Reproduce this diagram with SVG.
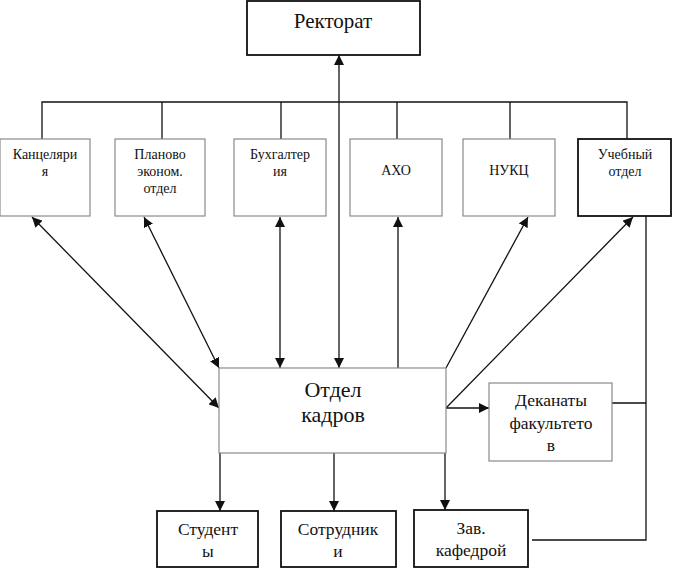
<svg xmlns="http://www.w3.org/2000/svg" width="673" height="568" viewBox="0 0 673 568">
<style>
.bg{fill:#fff}
.box{fill:#fff;stroke:#8a8a8a;stroke-width:1.2}
.dark{fill:#fff;stroke:#111;stroke-width:1.8}
.t{fill:#111;text-anchor:middle;font-family:"Liberation Serif","Times New Roman",serif}
.ln{fill:none;stroke:#111;stroke-width:1.3}
.ar{fill:none;stroke:#111;stroke-width:1.3;marker-end:url(#ah)}
.ar2{fill:none;stroke:#111;stroke-width:1.3;marker-start:url(#ahs);marker-end:url(#ah)}
</style>
<defs>
<marker id="ah" viewBox="0 0 10 10" refX="10" refY="5" markerWidth="10" markerHeight="10" markerUnits="userSpaceOnUse" orient="auto">
<path d="M0,0 L10,5 L0,10 z" fill="#111"/>
</marker>
<marker id="ahs" viewBox="0 0 10 10" refX="0" refY="5" markerWidth="10" markerHeight="10" markerUnits="userSpaceOnUse" orient="auto">
<path d="M10,0 L0,5 L10,10 z" fill="#111"/>
</marker>
</defs>
<rect class="bg" x="0" y="0" width="673" height="568"/>

<g id="connectors">
<path class="ln" d="M42,139 V102 H627 V139"/>
<path class="ln" d="M162,102 V139 M281,102 V139 M397,102 V139 M510,102 V139"/>
<line class="ar2" x1="339" y1="55" x2="339" y2="368"/>
<line class="ar2" x1="32" y1="217" x2="219" y2="408"/>
<line class="ar2" x1="144" y1="217" x2="219" y2="368"/>
<line class="ar2" x1="280" y1="217" x2="280" y2="368"/>
<line class="ar" x1="398" y1="368" x2="398" y2="217"/>
<line class="ar" x1="446" y1="368" x2="528" y2="217"/>
<line class="ar" x1="446" y1="408" x2="633" y2="217"/>
<line class="ar" x1="446" y1="408" x2="489" y2="408"/>
<path class="ln" d="M612,403 H646 M646,216 V540 H532"/>
<line class="ar" x1="220" y1="453" x2="220" y2="511"/>
<line class="ar" x1="334" y1="453" x2="334" y2="511"/>
<line class="ar" x1="445" y1="453" x2="445" y2="510"/>
</g>

<g id="rektorat">
<rect class="dark" x="247" y="1" width="173" height="54"/>
<text class="t" font-family="Liberation Serif" font-size="21" x="333" y="28">Ректорат</text>
</g>
<g id="kanc">
<rect class="box" x="0" y="139" width="90" height="77"/>
<text class="t" font-family="Liberation Serif" font-size="14" x="45" y="159">Канцеляри</text>
<text class="t" font-family="Liberation Serif" font-size="14" x="45" y="176">я</text>
</g>
<g id="planovo">
<rect class="box" x="115" y="139" width="90" height="77"/>
<text class="t" font-family="Liberation Serif" font-size="14" x="160" y="159">Планово</text>
<text class="t" font-family="Liberation Serif" font-size="14" x="160" y="176">эконом.</text>
<text class="t" font-family="Liberation Serif" font-size="14" x="160" y="193">отдел</text>
</g>
<g id="buh">
<rect class="box" x="234" y="139" width="92" height="77"/>
<text class="t" font-family="Liberation Serif" font-size="14" x="280" y="159">Бухгалтер</text>
<text class="t" font-family="Liberation Serif" font-size="14" x="280" y="176">ия</text>
</g>
<g id="aho">
<rect class="box" x="350" y="139" width="92" height="77"/>
<text class="t" font-family="Liberation Serif" font-size="14" x="396" y="175">АХО</text>
</g>
<g id="nukc">
<rect class="box" x="463" y="139" width="92" height="77"/>
<text class="t" font-family="Liberation Serif" font-size="14" x="509" y="175">НУКЦ</text>
</g>
<g id="uchebny">
<rect class="dark" x="578" y="139" width="93" height="77"/>
<text class="t" font-family="Liberation Serif" font-size="14" x="625" y="159">Учебный</text>
<text class="t" font-family="Liberation Serif" font-size="14" x="625" y="176">отдел</text>
</g>
<g id="otdel-kadrov">
<rect class="box" x="219" y="368" width="227" height="85"/>
<text class="t" font-family="Liberation Serif" font-size="22" x="333" y="397">Отдел</text>
<text class="t" font-family="Liberation Serif" font-size="22" x="333" y="422">кадров</text>
</g>
<g id="dekanaty">
<rect class="box" x="489" y="383" width="123" height="78"/>
<text class="t" font-family="Liberation Serif" font-size="17.5" x="551" y="406">Деканаты</text>
<text class="t" font-family="Liberation Serif" font-size="17.5" x="551" y="429">факультето</text>
<text class="t" font-family="Liberation Serif" font-size="17.5" x="551" y="451">в</text>
</g>
<g id="studenty">
<rect class="dark" x="157" y="511" width="101" height="56"/>
<text class="t" font-family="Liberation Serif" font-size="17.5" x="208" y="535">Студент</text>
<text class="t" font-family="Liberation Serif" font-size="17.5" x="208" y="557">ы</text>
</g>
<g id="sotrudniki">
<rect class="dark" x="281" y="511" width="115" height="56"/>
<text class="t" font-family="Liberation Serif" font-size="17.5" x="338" y="535">Сотрудник</text>
<text class="t" font-family="Liberation Serif" font-size="17.5" x="338" y="557">и</text>
</g>
<g id="zav">
<rect class="dark" x="414" y="510" width="114" height="57"/>
<text class="t" font-family="Liberation Serif" font-size="17.5" x="471" y="534">Зав.</text>
<text class="t" font-family="Liberation Serif" font-size="17.5" x="471" y="556">кафедрой</text>
</g>
</svg>
